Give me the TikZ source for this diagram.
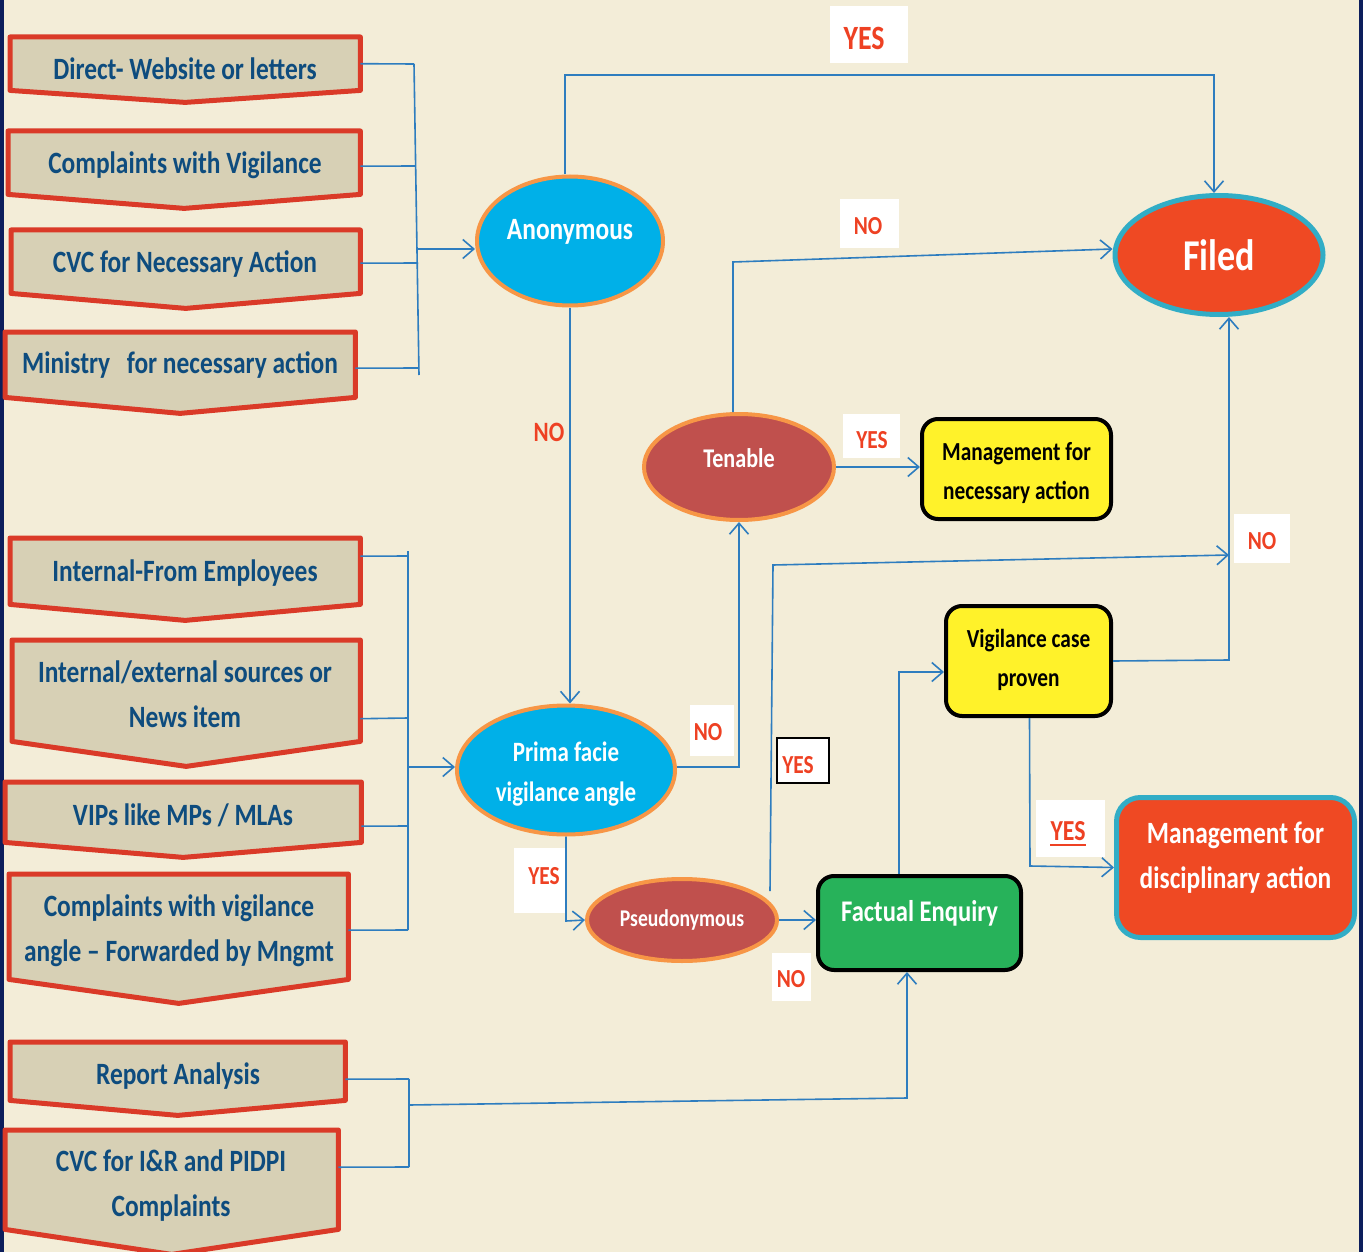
\documentclass[tikz,border=0pt]{standalone}
\usepackage{fontspec}
\setmainfont{Carlito}[FakeStretch=0.82]
\usetikzlibrary{arrows.meta,calc,shapes.geometric}
\definecolor{bgc}{RGB}{243,237,216}
\definecolor{navyc}{RGB}{12,30,92}
\definecolor{srcfill}{RGB}{215,208,181}
\definecolor{srcred}{RGB}{218,58,40}
\definecolor{srcblue}{RGB}{14,76,126}
\definecolor{connblue}{RGB}{46,125,191}
\definecolor{cyanF}{RGB}{0,176,232}
\definecolor{orangeB}{RGB}{247,150,70}
\definecolor{filedF}{RGB}{239,73,35}
\definecolor{tealB}{RGB}{49,173,198}
\definecolor{brickF}{RGB}{192,80,77}
\definecolor{yellowF}{RGB}{255,242,42}
\definecolor{greenF}{RGB}{39,178,90}
\definecolor{lblred}{RGB}{238,65,35}
\newcommand\srcbox[6]{%
  \node[inner sep=0, minimum width={#3-#2}, minimum height={#5-#4}, anchor=north west] (#1) at (#2,#4) {};
  \filldraw[srcshape] (#1.north west) -- (#1.north east) -- (#1.south east) -- ($(#1.south)+(0,#6)$) -- (#1.south west) -- cycle;}
\begin{document}
\begin{tikzpicture}[x=1pt,y=-1pt,
  srcshape/.style={fill=srcfill, draw=srcred, line width=5pt, line join=round},
  srctxt/.style={text=srcblue, font=\bfseries\fontsize{31}{45}\selectfont, align=center, inner sep=0},
  ell/.style={ellipse, inner sep=0, line width=4pt},
  wtxt/.style={text=white, align=center, inner sep=0},
  btxt/.style={text=black, align=center, inner sep=0},
  rbox/.style={rectangle, rounded corners=16pt, inner sep=0, line width=4pt},
  lblbox/.style={fill=white, inner sep=0},
  lbltxt/.style={text=lblred, inner sep=0, font=\bfseries\fontsize{26}{30}\selectfont},
  conn/.style={draw=connblue, line width=1.6pt},
  arr/.style={conn, -{Straight Barb[length=11pt,width=19pt,line width=1.6pt]}}
]
\useasboundingbox (0,0) rectangle (1363,1252);
\clip (0,0) rectangle (1363,1252);
\fill[bgc] (0,0) rectangle (1363,1252);
\fill[navyc] (0,0) rectangle (4,1252);
\fill[navyc] (1359,0) rectangle (1363,1252);

% ---------- source boxes ----------
\srcbox{s1}{10}{360}{37}{90}{12}
\node[srctxt] (s1t) at (185,69) {Direct- Website or letters};
\srcbox{s2}{8}{360}{131}{194}{14}
\node[srctxt] (s2t) at (185,165) {Complaints with Vigilance};
\srcbox{s3}{11}{360}{230}{293}{15}
\node[srctxt] (s3t) at (185,264) {CVC for Necessary Action};
\srcbox{s4}{5}{355}{332}{397}{16}
\node[srctxt] (s4t) at (180,365) {Ministry\hspace{0.35em} for necessary action};

\srcbox{s5}{10}{360}{538}{604}{16}
\node[srctxt] (s5t) at (185,573) {Internal-From Employees};
\srcbox{s6}{12}{360}{640}{741}{25}
\node[srctxt] (s6t) at (185,694) {Internal/external sources or\\News item};
\srcbox{s7}{5}{361}{782}{842}{15}
\node[srctxt] (s7t) at (183,815) {VIPs like MPs / MLAs};
\srcbox{s8}{9}{348}{874}{979}{24}
\node[srctxt] (s8t) at (179,931) {Complaints with vigilance\\angle -- Forwarded by Mngmt};

\srcbox{s9}{10}{345}{1042}{1100}{15}
\node[srctxt] (s9t) at (178,1076) {Report Analysis};
\srcbox{s10}{5}{338}{1130}{1229}{25}
\node[srctxt] (s10t) at (171,1186) {CVC for I\&R and PIDPI\\Complaints};

% ---------- decision nodes ----------
\node[ell, fill=cyanF, draw=orangeB, minimum width=186, minimum height=129] (anon) at (570,241) {};
\node[wtxt, font=\bfseries\fontsize{31}{36}\selectfont] (anont) at (570,232) {Anonymous};

\node[ell, fill=filedF, draw=tealB, line width=5pt, minimum width=208, minimum height=119] (filed) at (1219,255) {};
\node[wtxt, font=\bfseries\fontsize{44}{50}\selectfont] (filedt) at (1219,255) {Filed};

\node[ell, fill=brickF, draw=orangeB, minimum width=190, minimum height=106] (ten) at (739,467) {};
\node[wtxt, font=\bfseries\fontsize{27}{32}\selectfont] (tent) at (739,458) {Tenable};

\node[ell, fill=cyanF, draw=orangeB, minimum width=218, minimum height=129] (prima) at (566,770) {};
\node[wtxt, font=\bfseries\fontsize{28}{40}\selectfont] (primat) at (566,774) {Prima facie\\vigilance angle};

\node[ell, fill=brickF, draw=orangeB, minimum width=190, minimum height=82] (pseudo) at (682,920) {};
\node[wtxt, font=\bfseries\fontsize{24}{28}\selectfont] (pseudot) at (682,920) {Pseudonymous};

% ---------- boxes ----------
\node[rbox, fill=yellowF, draw=black, minimum width=189, minimum height=100] (mg1) at (1016.5,469) {};
\node[btxt, font=\bfseries\fontsize{26}{39}\selectfont] (mg1t) at (1016.5,473) {Management for\\necessary action};

\node[rbox, fill=yellowF, draw=black, minimum width=165, minimum height=110] (vig) at (1028.5,661) {};
\node[btxt, font=\bfseries\fontsize{26}{39}\selectfont] (vigt) at (1028.5,660) {Vigilance case\\proven};

\node[rbox, fill=greenF, draw=black, minimum width=203, minimum height=94] (fact) at (919.5,923) {};
\node[wtxt, font=\bfseries\fontsize{30}{36}\selectfont] (factt) at (919.5,913) {Factual Enquiry};

\node[rbox, rounded corners=24pt, fill=filedF, draw=tealB, line width=5pt, minimum width=238, minimum height=140] (mg2) at (1235.5,867.5) {};
\node[wtxt, font=\bfseries\fontsize{31}{45}\selectfont] (mg2t) at (1235.5,858) {Management for\\disciplinary action};

% ---------- labels ----------
\node[lblbox, minimum width=78, minimum height=57] (yes1) at (869,34.5) {};
\node[lbltxt, font=\bfseries\fontsize{34}{40}\selectfont] (yes1t) at (864,38) {YES};
\node[lblbox, minimum width=59, minimum height=49] (no1) at (869.5,223.5) {};
\node[lbltxt] (no1t) at (868,226) {NO};
\node[lbltxt, font=\bfseries\fontsize{28}{32}\selectfont] (no2t) at (549,432) {NO};
\node[lblbox, minimum width=57, minimum height=44] (yes2) at (871.5,436) {};
\node[lbltxt] (yes2t) at (872,440) {YES};
\node[lblbox, minimum width=44, minimum height=51] (no3) at (711.5,730.5) {};
\node[lbltxt] (no3t) at (708,732) {NO};
\node[lblbox, minimum width=51, minimum height=65] (yes3) at (539.5,880.5) {};
\node[lbltxt] (yes3t) at (544,876) {YES};
\node[lblbox, draw=black, line width=1.2pt, minimum width=52, minimum height=45] (yes4) at (803,760.5) {};
\node[lbltxt] (yes4t) at (798,765) {YES};
\node[lblbox, minimum width=39, minimum height=48] (no4) at (791.5,977) {};
\node[lbltxt] (no4t) at (791,979) {NO};
\node[lblbox, minimum width=56, minimum height=49] (no5) at (1262,538.5) {};
\node[lbltxt] (no5t) at (1262,541) {NO};
\node[lblbox, minimum width=69, minimum height=57] (yes5) at (1070.5,828.5) {};
\node[lbltxt, font=\bfseries\fontsize{29}{34}\selectfont] (yes5t) at (1068,831) {YES};
\draw[lblred, line width=2.5pt] ($(yes5t.south west)+(0,4)$) -- ($(yes5t.south east)+(0,4)$);

% ---------- connectors: group 1 ----------
\coordinate (b1top) at (414,64);
\coordinate (b1bot) at (419,375);
\coordinate (j1) at (418,249);
\draw[conn] (b1top) -- (b1bot);
\draw[conn] (s1.east) -- (b1top);
\draw[conn] ($(s2.east)+(0,3.5)$) -- (415,166);
\draw[conn] ($(s3.east)+(0,1.5)$) -- (418,263);
\draw[conn] ($(s4.east)+(0,3.5)$) -- (419,368);
\draw[arr] (j1) -- ($(anon.west)+(0,8)$);

% ---------- connectors: group 2 ----------
\coordinate (b2top) at (408,551);
\coordinate (b2bot) at (408,930);
\coordinate (j2) at (408,767);
\draw[conn] (b2top) -- (b2bot);
\draw[conn] ($(s5.east)+(0,-15)$) -- (408,556);
\draw[conn] ($(s6.east)+(0,28)$) -- (408,718);
\draw[conn] ($(s7.east)+(0,14)$) -- (408,826);
\draw[conn] ($(s8.east)+(0,3.5)$) -- (b2bot);
\draw[arr] (j2) -- ($(prima.west)+(0,-3)$);

% ---------- connectors: group 3 ----------
\coordinate (b3top) at (409,1079);
\coordinate (b3bot) at (409,1167);
\coordinate (j3) at (409,1105);
\coordinate (c3) at (907,1098);
\draw[conn] (b3top) -- (b3bot);
\draw[conn] ($(s9.east)+(0,8)$) -- (b3top);
\draw[conn] ($(s10.east)+(0,-12.5)$) -- (b3bot);
\draw[arr] (j3) -- (c3) -- ($(fact.south)+(-12.5,0)$);

% ---------- main flow ----------
\coordinate (ya) at (565,75);
\coordinate (yb) at (1214,75);
\draw[arr] ($(anon.north)+(-5,0)$) -- (ya) -- (yb) -- ($(filed.north)+(-5,0)$);
\draw[arr] (anon.south) -- (anon.south |- prima.north);

\coordinate (ta) at (733,262);
\draw[arr] ($(ten.north)+(-6,0)$) -- (ta) -- ($(filed.west)+(0,-6)$);
\draw[arr] (ten.east) -- (ten.east -| mg1.west);

\coordinate (pa) at (739,767);
\draw[arr] ($(prima.east)+(0,-3)$) -- (pa) -- (ten.south);
\coordinate (pb) at (566,921);
\draw[arr] (prima.south) -- (pb) -- (pseudo.west);

\coordinate (qs) at (770,891);
\coordinate (qa) at (773,565);
\coordinate (qb) at (1229,555);
\draw[arr] (qs) -- (qa) -- (qb);
\draw[arr] (pseudo.east) -- (pseudo.east -| fact.west);

\coordinate (fa) at (899,672);
\draw[arr] ($(fact.north)+(-20.5,0)$) -- (fa) -- ($(vig.west)+(0,11)$);

\coordinate (va) at (1229,660);
\draw[arr] (vig.east) -- (va) -- ($(filed.south)+(10,0)$);
\coordinate (vb) at (1030,866);
\draw[arr] ($(vig.south)+(1,0)$) -- (vb) -- (mg2.west);
\end{tikzpicture}
\end{document}
